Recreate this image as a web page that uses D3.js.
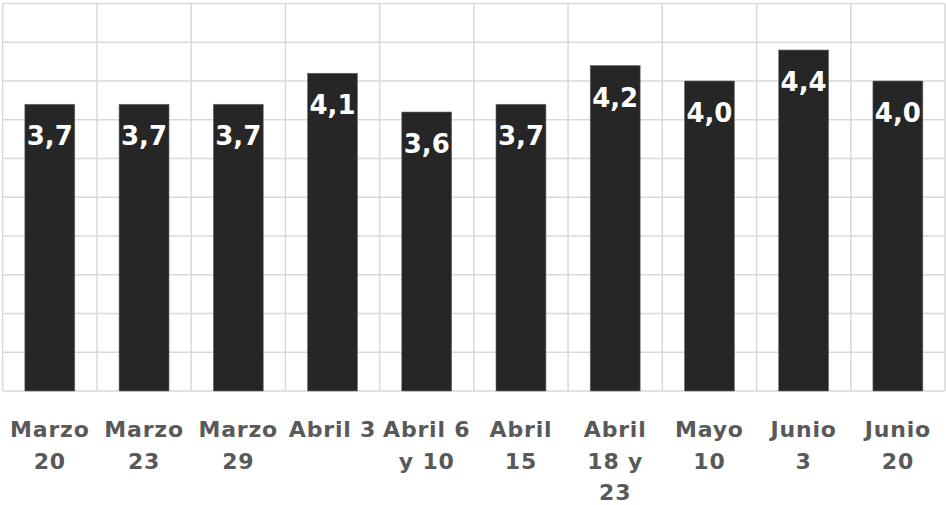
<!DOCTYPE html>
<html>
<head>
<meta charset="utf-8">
<script src="https://cdn.jsdelivr.net/npm/d3@7"></script>
<style>
  body { margin: 0; background: #fff; }
</style>
</head>
<body>
<div id="chart"></div>
<script>
// data
var categories = ["Marzo 20", "Marzo 23", "Marzo 29", "Abril 3", "Abril 6 y 10",
                  "Abril 15", "Abril 18 y 23", "Mayo 10", "Junio 3", "Junio 20"];
// how each tick label breaks into lines
var tickLines = [["Marzo", "20"], ["Marzo", "23"], ["Marzo", "29"], ["Abril 3"], ["Abril 6", "y 10"],
                 ["Abril", "15"], ["Abril", "18 y", "23"], ["Mayo", "10"], ["Junio", "3"], ["Junio", "20"]];
var values = [3.7, 3.7, 3.7, 4.1, 3.6, 3.7, 4.2, 4.0, 4.4, 4.0];
var yTicks = [0, 0.5, 1, 1.5, 2, 2.5, 3, 3.5, 4, 4.5, 5];

// set the dimensions and margins of the graph
var margin = {top: 3.5, right: 1, bottom: 114, left: 2.7},
    width = 946 - margin.left - margin.right,
    height = 505 - margin.top - margin.bottom;

var svg = d3.select("#chart")
  .append("svg")
    .attr("width", 946)
    .attr("height", 505)
  .append("g")
    .attr("transform", "translate(" + margin.left + "," + margin.top + ")");

var x = d3.scaleBand()
  .domain(categories)
  .range([0, width])
  .paddingInner(0.47)
  .paddingOuter(0.235);

var y = d3.scaleLinear()
  .domain([0, 5])
  .range([height, 0]);

// horizontal grid
svg.append("g")
  .selectAll("line")
  .data(yTicks)
  .enter().append("line")
    .attr("x1", 0)
    .attr("x2", width)
    .attr("y1", function(d) { return y(d); })
    .attr("y2", function(d) { return y(d); })
    .attr("stroke", "#d9d9d9")
    .attr("stroke-width", 1.5);

// vertical grid, one at each category boundary
var step = x.step();
svg.append("g")
  .selectAll("line")
  .data(d3.range(categories.length + 1))
  .enter().append("line")
    .attr("x1", function(i) { return i * step; })
    .attr("x2", function(i) { return i * step; })
    .attr("y1", 0)
    .attr("y2", height)
    .attr("stroke", "#d9d9d9")
    .attr("stroke-width", 1.5);

// bars
svg.append("g")
  .selectAll("rect")
  .data(values)
  .enter().append("rect")
    .attr("x", function(d, i) { return x(categories[i]); })
    .attr("y", function(d) { return y(d); })
    .attr("width", x.bandwidth())
    .attr("height", function(d) { return height - y(d); })
    .attr("fill", "#262626")
    .attr("stroke", "#6f6f6f")
    .attr("stroke-width", 0.6);

// value labels
svg.append("g")
  .selectAll("text")
  .data(values)
  .enter().append("text")
    .attr("x", function(d, i) { return x(categories[i]) + x.bandwidth() / 2; })
    .attr("y", function(d) { return y(d) + 41; })
    .attr("text-anchor", "middle")
    .attr("fill", "#ffffff")
    .style("font-family", "'DejaVu Sans', sans-serif")
    .style("font-weight", "bold")
    .style("font-size", "26px")
    .text(function(d) { return d.toFixed(1).replace(".", ","); });

// x axis labels
var xAxis = svg.append("g")
  .attr("transform", "translate(0," + height + ")")
  .call(d3.axisBottom(x).tickSize(0).tickFormat(""));
xAxis.select(".domain").remove();

xAxis.selectAll(".tick").each(function(d, i) {
  var t = d3.select(this).append("text")
    .attr("text-anchor", "middle")
    .attr("fill", "#595959")
    .style("font-family", "'DejaVu Sans', sans-serif")
    .style("font-weight", "bold")
    .style("font-size", "22px")
    .style("letter-spacing", "0.8px");
  tickLines[i].forEach(function(line, k) {
    t.append("tspan")
      .attr("x", 0)
      .attr("y", 46 + k * 31.5)
      .text(line);
  });
});
</script>
</body>
</html>
